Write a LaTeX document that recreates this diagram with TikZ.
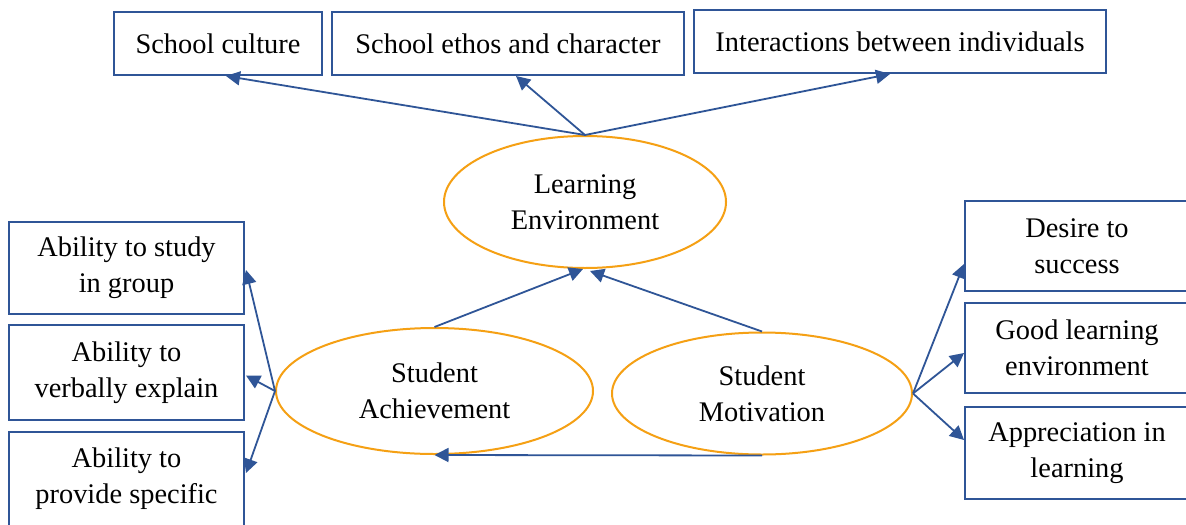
\documentclass[tikz,border=0pt]{standalone}
\usepackage{fontspec}
\setmainfont{Liberation Serif}
\usetikzlibrary{shapes.geometric,arrows.meta,calc}
\definecolor{lineblue}{RGB}{47,85,151}
\definecolor{ellorange}{RGB}{245,160,20}
\tikzset{
  box/.style={draw=lineblue, line width=1pt, rectangle, align=center, inner sep=2pt,
    font=\fontsize{14.2}{18}\selectfont},
  oval/.style={draw=ellorange, line width=1pt, ellipse, align=center, inner sep=0pt,
    font=\fontsize{14.2}{18}\selectfont},
  conn/.style={draw=lineblue, line width=0.9pt, -{Triangle[length=7pt,width=7pt]}}
}
\begin{document}
\begin{tikzpicture}[x=0.5pt,y=-0.5pt]
\clip (0,0) rectangle (1186,524);
\useasboundingbox (0,0) rectangle (1186,524);
\fill[white] (0,0) rectangle (1186,524);
% top boxes
\node[box, minimum width=104pt, minimum height=31.5pt] (SC) at (218,43.5) {School culture};
\node[box, minimum width=176pt, minimum height=31.5pt] (ES) at (508,43.5) {School ethos and character};
\node[box, minimum width=206pt, minimum height=31.5pt] (IB) at (900,41.5) {Interactions between individuals};
% ellipses
\node[oval, minimum width=141pt, minimum height=66pt] (LE) at (585,202) {Learning\\Environment};
\node[oval, minimum width=158.5pt, minimum height=63pt] (SA) at (434.5,391) {Student\\Achievement};
\node[oval, minimum width=150pt, minimum height=61pt] (SM) at (762,393.5) {Student\\Motivation};
% left boxes
\node[box, minimum width=117.5pt, minimum height=46pt] (study) at (126.5,268) {Ability to study\\in group};
\node[box, minimum width=117.5pt, minimum height=47.5pt] (verbal) at (126.5,372.5) {Ability to\\verbally explain};
\node[box, minimum width=117.5pt, minimum height=47pt] (specific) at (126.5,479) {Ability to\\provide specific};
% right boxes
\node[box, minimum width=112pt, minimum height=45pt] (desire) at (1077,246) {Desire to\\success};
\node[box, minimum width=112pt, minimum height=45pt] (good) at (1077,348) {Good learning\\environment};
\node[box, minimum width=112pt, minimum height=46pt] (appr) at (1077,453) {Appreciation in\\learning};
% connectors
\draw[conn] (LE.north) -- ($(SC.south)+(8,0)$);
\draw[conn] (LE.north) -- ($(ES.south)+(8,0)$);
\draw[conn] (LE.north) -- ($(IB.south)+(-10,0)$);
\draw[conn] (SA.north) -- ($(LE.south)+(-2,0)$);
\draw[conn] (SM.north) -- ($(LE.south)+(5,2)$);
\draw[conn] (SM.south) -- (SA.south);
\draw[conn] (SA.west) -- ($(study.east)+(1,2)$);
\draw[conn] (SA.west) -- ($(verbal.east)+(1,3)$);
\draw[conn] (SA.west) -- ($(specific.east)+(1,-6)$);
\draw[conn] (SM.east) -- ($(desire.west)+(0,18)$);
\draw[conn] (SM.east) -- ($(good.west)+(0,5)$);
\draw[conn] (SM.east) -- ($(appr.west)+(0,-13)$);
\end{tikzpicture}
\end{document}
